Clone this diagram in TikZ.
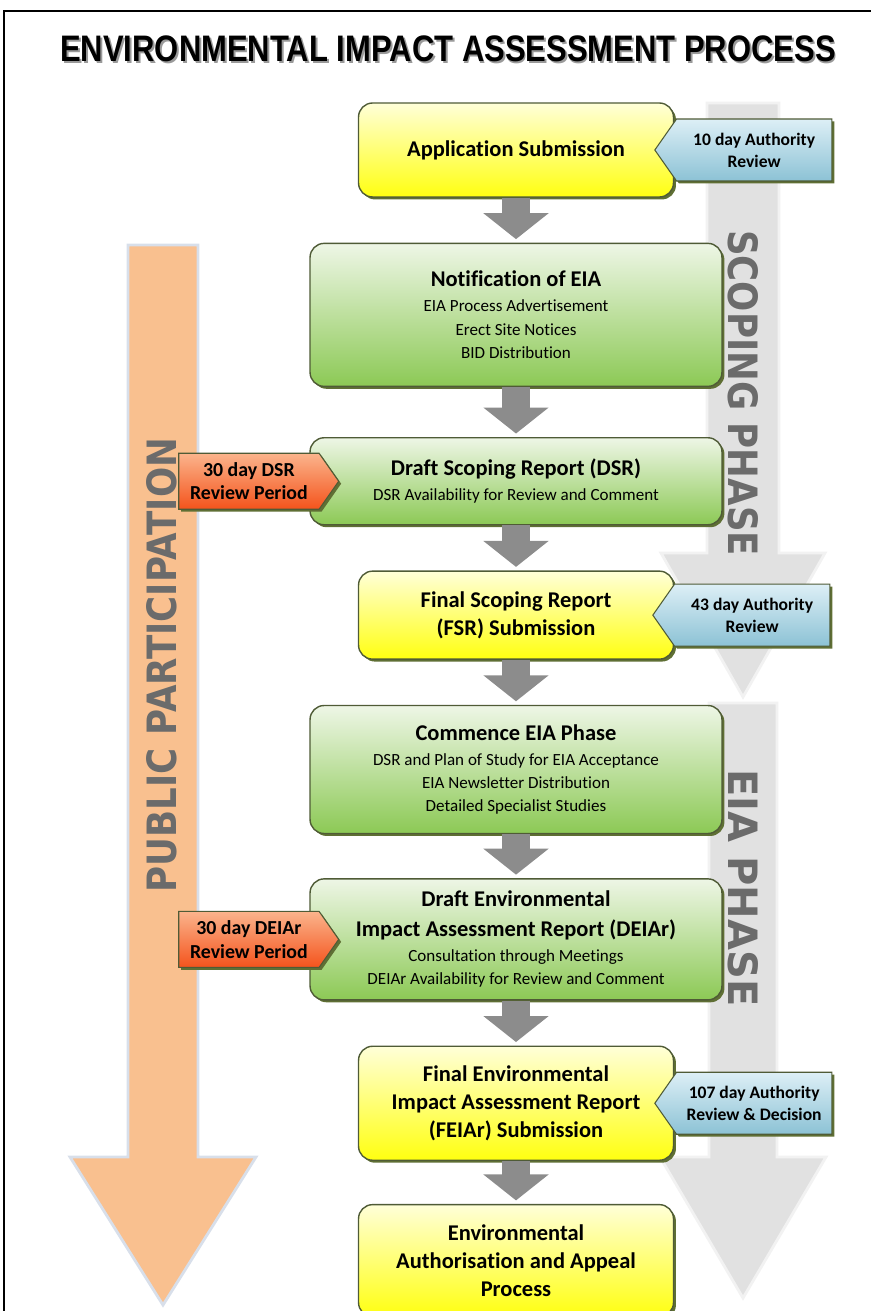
\documentclass[tikz,border=0pt]{standalone}
\usepackage{fontspec}
\setmainfont{Carlito}[Ligatures=NoCommon]
\newfontfamily\headfont{Liberation Sans}
\newfontfamily\phasefont{DejaVu Sans}
\usetikzlibrary{arrows.meta,positioning,shapes.symbols,shadows}
\definecolor{boxline}{HTML}{4F5B36}
\definecolor{boxshade}{HTML}{5F6F34}
\definecolor{yelltop}{HTML}{FFFFD8}
\definecolor{yellmid}{HTML}{FFFF8C}
\definecolor{yellbot}{HTML}{FFFF10}
\definecolor{greentop}{HTML}{EEF6E6}
\definecolor{greenmid}{HTML}{C3E2A4}
\definecolor{greenbot}{HTML}{8CC955}
\definecolor{bluetop}{HTML}{DDEFF6}
\definecolor{bluebot}{HTML}{8CC2D5}
\definecolor{orgtop}{HTML}{FBB48C}
\definecolor{orgbot}{HTML}{F4531C}
\definecolor{pporange}{HTML}{F9C08F}
\definecolor{ppedge}{HTML}{D8DFEA}
\definecolor{phasefill}{HTML}{E1E1E1}
\definecolor{phaseedge}{HTML}{F2F2F2}
\definecolor{phasegray}{HTML}{6B6B6B}
\definecolor{flowgray}{HTML}{8C8C8C}
\definecolor{titleshade}{HTML}{9A9A9A}
\newcommand\hd[1]{{\fontsize{12.8}{16}\selectfont\bfseries #1}}
\newcommand\shadowed[1]{\makebox[0pt][l]{\hspace{1.3pt}\raisebox{-1.3pt}{\textcolor{titleshade}{#1}}}#1}
\tikzset{
  stage/.style={draw=boxline,line width=0.8pt,rounded corners=8pt,align=center,
    drop shadow={shadow xshift=1.4pt,shadow yshift=-1.4pt,fill=boxshade,opacity=1},
    font=\fontsize{9.7}{13.3}\selectfont},
  yellowbox/.style={stage,top color=yelltop,middle color=yellmid,bottom color=yellbot,
    minimum width=6.3cm,font=\fontsize{12.8}{16}\selectfont\bfseries},
  greenbox/.style={stage,top color=greentop,middle color=greenmid,bottom color=greenbot,
    minimum width=8.24cm},
  tag/.style={signal,draw=boxline,line width=0.6pt,align=center,inner sep=2pt,
    signal pointer angle=110,
    drop shadow={shadow xshift=1.4pt,shadow yshift=-1.4pt,fill=boxshade,opacity=1}},
  review/.style={tag,signal to=west,top color=bluetop,bottom color=bluebot,
    minimum width=3.54cm,minimum height=1.24cm,font=\fontsize{10}{12.6}\selectfont\bfseries},
  period/.style={tag,signal to=east,top color=orgtop,bottom color=orgbot,
    minimum width=3.2cm,minimum height=1.12cm,font=\fontsize{11.3}{13.4}\selectfont\bfseries},
  flowarrow/.style={draw=flowgray,line width=0.56cm,shorten >=2pt,
    -{Triangle[width=1.28cm,length=0.52cm]}},
  phase/.style={text=phasegray,font=\phasefont\bfseries\fontsize{23}{23}\selectfont}
}
\begin{document}
\begin{tikzpicture}[x=0.02cm,y=-0.02cm,node distance=9mm]
\useasboundingbox (0,0) rectangle (871,1311);
\draw[line width=1.2pt] (4,1311) -- (4,11) -- (871,11);
\node[font=\headfont\bfseries\fontsize{21}{24}\selectfont] (title) at (448,50)
  {\scalebox{0.84}[1]{\shadowed{ENVIRONMENTAL IMPACT ASSESSMENT PROCESS}}};

\fill[pporange,draw=ppedge,line width=1.6pt] (128,245) -- (198,245) -- (198,1157)
  -- (256,1157) -- (163,1305) -- (70,1157) -- (128,1157) -- cycle;
\fill[phasefill,draw=phaseedge,line width=1.6pt] (707,103) -- (779,103) -- (779,553)
  -- (825,553) -- (743,697) -- (661,553) -- (707,553) -- cycle;
\fill[phasefill,draw=phaseedge,line width=1.6pt] (709,703) -- (777,703) -- (777,1157)
  -- (826,1157) -- (743,1298) -- (660,1157) -- (709,1157) -- cycle;
\node[phase,rotate=90] (public) at (162,665) {\scalebox{0.88}[1]{PUBLIC PARTICIPATION}};
\node[phase,rotate=-90] (scoping) at (743,393) {\scalebox{0.88}[1]{SCOPING PHASE}};
\node[phase,rotate=-90] (eiaphase) at (743,888) {\scalebox{0.99}[1]{EIA PHASE}};

\node[yellowbox,minimum height=1.88cm] (app) at (516,150) {Application Submission};
\node[greenbox,minimum height=2.86cm,below=of app] (notif)
  {\hd{Notification of EIA}\\[0.8pt]EIA Process Advertisement\\Erect Site Notices\\BID Distribution};
\node[greenbox,minimum height=1.74cm,below=10mm of notif] (dsr)
  {\hd{Draft Scoping Report (DSR)}\\[0.8pt]DSR Availability for Review and Comment};
\node[yellowbox,minimum height=1.76cm,below=of dsr] (fsr) {Final Scoping Report\\(FSR) Submission};
\node[greenbox,minimum height=2.56cm,below=of fsr] (commence)
  {\hd{Commence EIA Phase}\\[0.8pt]DSR and Plan of Study for EIA Acceptance\\EIA Newsletter Distribution\\Detailed Specialist Studies};
\node[greenbox,minimum height=2.42cm,below=8.8mm of commence] (deiar)
  {\hd{Draft Environmental}\\[3.6pt]\hd{Impact Assessment Report (DEIAr)}\\[0.8pt]Consultation through Meetings\\DEIAr Availability for Review and Comment};
\node[yellowbox,minimum height=2.28cm,below=of deiar] (feiar)
  {Final Environmental\\Impact Assessment Report\\(FEIAr) Submission};
\node[yellowbox,minimum height=2.24cm,below=8.6mm of feiar] (final)
  {Environmental\\Authorisation and Appeal\\Process};

\node[review,anchor=west,xshift=-4mm] (appreview) at (app.east) {10 day Authority\\Review};
\node[period,anchor=east,xshift=6mm] (dsrperiod) at (dsr.west) {30 day DSR\\Review Period};
\node[review,anchor=west,xshift=-4.4mm] (fsrreview) at (fsr.east) {43 day Authority\\Review};
\node[period,anchor=east,xshift=6mm] (deiarperiod) at (deiar.west) {30 day DEIAr\\Review Period};
\node[review,anchor=west,xshift=-4mm] (feiarreview) at (feiar.east) {107 day Authority\\Review \& Decision};

\foreach \a/\b in {app/notif,notif/dsr,dsr/fsr,fsr/commence,commence/deiar,deiar/feiar,feiar/final}
  \draw[flowarrow] (\a) -- (\b);
\end{tikzpicture}
\end{document}
